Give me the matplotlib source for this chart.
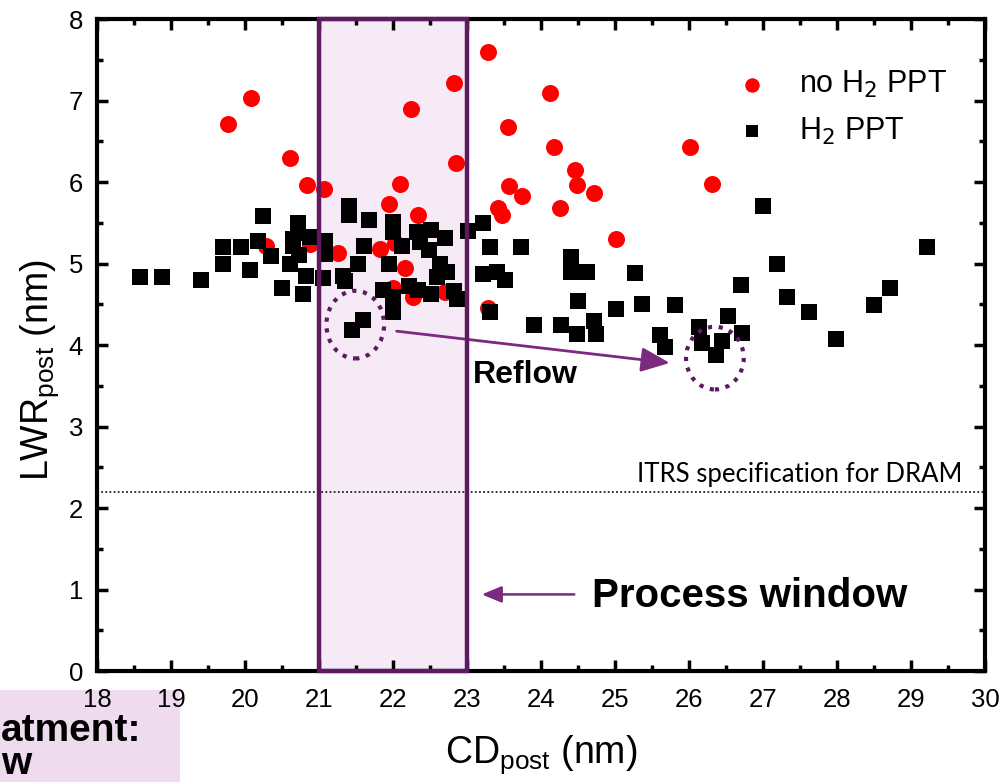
import matplotlib
matplotlib.use("Agg")
import matplotlib.pyplot as plt
from matplotlib.patches import Rectangle, Ellipse

plt.rcParams['font.family'] = ['Liberation Sans', 'DejaVu Sans']

# no H2 PPT (red circles)
red_x = [19.77, 20.08, 20.61, 20.84, 21.07, 20.28, 20.88, 21.26, 22.85, 22.09, 21.94, 22.34,
         23.57, 23.75, 23.42, 23.47, 21.82, 22.16, 22.03, 22.00, 22.27, 22.70, 23.28, 23.29,
         22.82, 24.12, 23.56, 24.18, 24.46, 24.48, 24.72, 24.26, 25.01, 26.01, 26.31, 22.24]
red_y = [6.71, 7.03, 6.29, 5.96, 5.91, 5.21, 5.24, 5.13, 6.23, 5.98, 5.73, 5.59,
         5.95, 5.83, 5.68, 5.59, 5.18, 4.94, 5.25, 4.70, 4.59, 4.65, 4.45, 7.59,
         7.21, 7.09, 6.68, 6.43, 6.15, 5.96, 5.87, 5.68, 5.30, 6.43, 5.98, 6.90]

# H2 PPT (black squares)
blk_x = [18.58, 18.88, 19.40, 19.70, 19.95, 19.70, 20.07, 20.17, 20.25, 20.35, 20.50, 20.61,
         20.65, 20.65, 20.72, 20.72, 20.73, 20.78, 20.83, 20.88, 21.06, 21.08, 21.08,
         21.40, 21.40, 21.68, 22.00, 22.00, 22.32, 22.52, 22.36, 22.48, 22.70, 23.02, 21.61,
         22.12, 21.53, 21.94, 21.33, 21.35, 22.64, 22.73, 22.59, 21.87, 22.00, 22.00, 22.21,
         22.34, 22.52, 22.82, 22.86, 21.60, 21.44,
         23.22, 23.31, 23.73, 24.41, 24.41, 24.62, 23.21, 23.40, 23.51, 25.27, 24.50, 23.31,
         25.01, 25.36, 25.81, 23.91, 24.27, 24.48, 24.71, 24.74, 25.61, 25.68, 26.14, 26.53,
         26.70, 26.72, 26.18, 26.45, 26.36, 27.19, 27.00, 27.33, 27.62, 27.99, 28.50, 28.71,
         29.21]
blk_y = [4.83, 4.83, 4.80, 5.20, 5.20, 4.99, 4.92, 5.28, 5.58, 5.09, 4.70, 5.00,
         5.21, 5.30, 5.50, 5.38, 5.10, 4.63, 4.85, 5.33, 4.82, 5.28, 5.12,
         5.70, 5.60, 5.53, 5.51, 5.39, 5.39, 5.41, 5.27, 5.17, 5.31, 5.40, 5.21,
         5.21, 5.00, 5.00, 4.85, 4.78, 5.00, 4.89, 4.84, 4.68, 4.59, 4.41, 4.72,
         4.67, 4.63, 4.66, 4.57, 4.31, 4.18,
         5.50, 5.20, 5.20, 5.08, 4.90, 4.90, 4.87, 4.90, 4.80, 4.88, 4.54, 4.40,
         4.44, 4.50, 4.49, 4.24, 4.24, 4.14, 4.29, 4.13, 4.12, 3.97, 4.22, 4.35,
         4.74, 4.15, 4.02, 4.05, 3.88, 4.99, 5.70, 4.59, 4.40, 4.07, 4.49, 4.70,
         5.20]

x_ticks = list(range(18, 31))
y_ticks = list(range(0, 9))
itrs_value = 2.2
window = (21, 23)

purple = '#5e1a60'
arrow_purple = '#7b2a80'

fig = plt.figure(figsize=(10.01, 7.82), dpi=100)
ax = fig.add_axes([0.0969, 0.1419, 0.8871, 0.8338])

# process window
ax.add_patch(Rectangle((window[0], 0), window[1] - window[0], 8, facecolor='#f5eaf5',
                       edgecolor='none', zorder=1, clip_on=False))
ax.add_patch(Rectangle((window[0], 0), window[1] - window[0], 8, facecolor='none',
                       edgecolor=purple, linewidth=3.2, zorder=6, clip_on=False))

ax.scatter(red_x, red_y, s=150, marker='o', color='#ff0000', linewidths=0, zorder=3,
           label='no H$_2$ PPT')
ax.scatter(blk_x, blk_y, s=120, marker='s', color='black', linewidths=0, zorder=4,
           label='H$_2$ PPT')

ax.axhline(itrs_value, color='#222222', linestyle=(0, (1, 1.3)), linewidth=1.3, zorder=2)
ax.text(29.70, 2.32, 'ITRS specification for DRAM', ha='right', va='baseline',
        fontsize=18.5, family=['Lato', 'DejaVu Sans'])

# dotted circles
ax.add_patch(Ellipse((21.49, 4.25), 0.78, 0.83, fill=False, edgecolor=purple,
                     linestyle=(0, (1, 1.6)), linewidth=3, zorder=5))
ax.add_patch(Ellipse((26.35, 3.84), 0.78, 0.77, fill=False, edgecolor=purple,
                     linestyle=(0, (1, 1.6)), linewidth=3, zorder=5))

ax.annotate('', xy=(25.74, 3.78), xytext=(22.05, 4.17),
            arrowprops=dict(arrowstyle='-|>,head_length=0.7,head_width=0.3',
                            color=arrow_purple, lw=2, mutation_scale=25,
                            shrinkA=0, shrinkB=0), zorder=5)
ax.text(23.08, 3.63, 'Reflow', fontsize=23, fontweight='bold', ha='left', va='center')

ax.annotate('', xy=(23.2, 0.94), xytext=(24.45, 0.94),
            arrowprops=dict(arrowstyle='-|>,head_length=0.6,head_width=0.25',
                            color=arrow_purple, lw=1.8, mutation_scale=20,
                            shrinkA=0, shrinkB=0), zorder=5)
ax.text(24.69, 0.925, 'Process window', fontsize=29, fontweight='bold', ha='left', va='center')

ax.set_xlim(18, 30)
ax.set_ylim(0, 8)
ax.set_xticks(x_ticks)
ax.set_yticks(y_ticks)
ax.set_xticks([t + 0.5 for t in x_ticks[:-1]], minor=True)
ax.set_yticks([t + 0.5 for t in y_ticks[:-1]], minor=True)
ax.tick_params(which='both', direction='in', top=True, right=True, width=2.5)
ax.tick_params(which='major', length=8, labelsize=18.5)
ax.tick_params(axis='x', which='major', pad=12)
ax.tick_params(axis='y', which='major', pad=10)
ax.tick_params(which='minor', length=4)
for sp in ax.spines.values():
    sp.set_linewidth(3)

ax.set_xlabel('CD$_{\\mathregular{post}}$ (nm)', fontsize=27)
ax.xaxis.set_label_coords(0.5, -0.096)
ax.set_ylabel('LWR$_{\\mathregular{post}}$ (nm)', fontsize=27)
ax.yaxis.set_label_coords(-0.040, 0.462)

ax.legend(loc='upper left', bbox_to_anchor=(0.698, 0.942), frameon=False,
          fontsize=22, handlelength=1.5, handletextpad=0.8, labelspacing=0.5,
          borderaxespad=0, markerscale=0.85)

# cropped slide text box at bottom-left
fig.patches.append(Rectangle((0, 0), 0.18, 0.118, transform=fig.transFigure,
                             facecolor='#eedcee', edgecolor='none', zorder=-1))
fig.text(0.001, 0.052, 'atment:', fontsize=28, fontweight='bold', ha='left', va='baseline')
fig.text(0.001, 0.0, 'w', fontsize=28, fontweight='bold', ha='left', va='bottom')

fig.savefig('out.png', dpi=100)
